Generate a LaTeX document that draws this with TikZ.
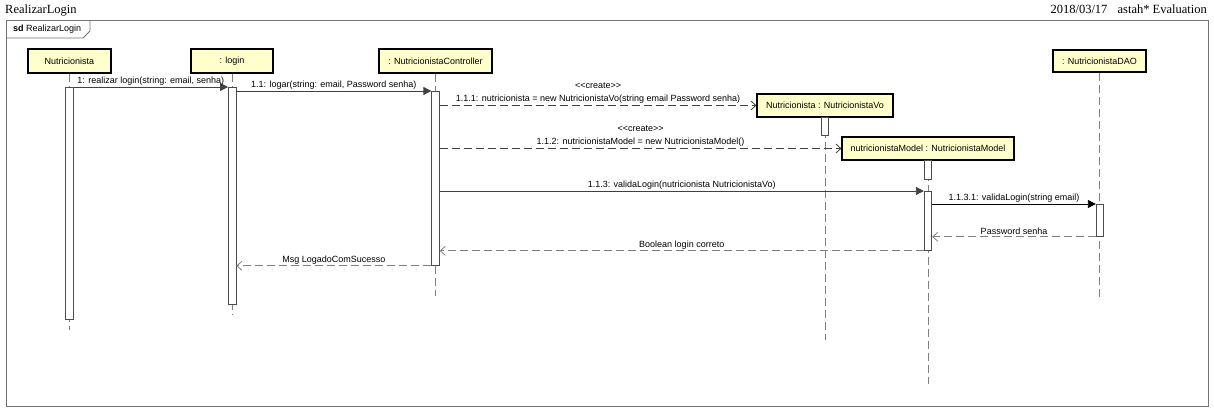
\documentclass[tikz,border=0pt]{standalone}
\usepackage{fontspec}
\setmainfont{Liberation Serif}
\newfontfamily\umlfont{Liberation Sans}
\usetikzlibrary{arrows.meta}
\definecolor{headfill}{HTML}{FFFFCC}
\tikzset{
  head/.style={draw=black,line width=1.1pt,fill=headfill,inner sep=0pt,font=\umlfont\fontsize{9}{11}\selectfont},
  life/.style={draw=black!50,line width=0.8pt,dash pattern=on 8pt off 4pt},
  act/.style={draw=black!70,line width=0.8pt,fill=white,minimum width=7.5pt,inner sep=0pt,anchor=north},
  call/.style={draw=black!75,line width=0.8pt,-{Triangle[length=8pt,width=8pt]}},
  create/.style={draw=black!75,line width=0.8pt,dash pattern=on 8pt off 4pt,-{Straight Barb[length=5pt,width=9pt]}},
  reply/.style={draw=black!50,line width=0.8pt,dash pattern=on 8pt off 4pt,-{Straight Barb[length=5pt,width=9pt]}},
  lbl/.style={above,inner sep=1.5pt,font=\umlfont\fontsize{9}{11}\selectfont,align=center},
  frame/.style={draw=black!55,line width=0.8pt}
}
\begin{document}
\begin{tikzpicture}[x=1pt,y=-1pt]
\useasboundingbox (0,0) rectangle (1214,411);
\node[anchor=base west,inner sep=0pt,font=\fontsize{12.5}{14}\selectfont] (ttl) at (5,14) {RealizarLogin};
\node[anchor=base east,inner sep=0pt,font=\fontsize{12.5}{14}\selectfont] (eval) at (1207,14) {2018/03/17\hspace{7pt} astah* Evaluation};
\draw[frame] (6,20) rectangle (1208,406);
\draw[frame] (6,38)--(83,38)--(90,31)--(90,20);
\node[anchor=west,inner sep=0pt,font=\umlfont\fontsize{9}{11}\selectfont] (sd) at (13,29.5) {\textbf{sd} RealizarLogin};
\foreach \n/\x/\y/\w/\h/\t in {hNut/69.5/61/83/24/Nutricionista,hLog/232/61/82/24/: login,hCtl/435.5/61/113/24/: NutricionistaController,hVo/825/105.5/136/23/Nutricionista : NutricionistaVo,hMod/928/148.5/172/23/nutricionistaModel : NutricionistaModel,hDao/1099.5/61/93/22/: NutricionistaDAO}{\node[head,minimum width=\w pt,minimum height=\h pt](\n)at(\x,\y){\t};}
\foreach \n/\e in {hNut/330,hLog/315,hCtl/296,hVo/340,hMod/384,hDao/297}{\draw[life](\n.south)--(\n.south|-0,\e);}
\node[act,minimum height=232pt] (aNut) at (69.5,87) {};
\node[act,minimum height=217pt] (aLog) at (232.2,87) {};
\node[act,minimum height=174pt] (aCtl) at (435.5,91) {};
\node[act,minimum height=18pt] (aVo) at (825,117) {};
\node[act,minimum height=19pt] (aModA) at (928,160) {};
\node[act,minimum height=59pt] (aModB) at (928,191) {};
\node[act,minimum height=32pt] (aDao) at (1100,204) {};
\draw[call](aNut.north east)--node[lbl]{1: realizar login(string: email, senha)}(aLog.north west);
\draw[call](aLog.east|-aCtl.north)--node[lbl]{1.1: logar(string: email, Password senha)}(aCtl.north west);
\draw[create](aCtl.east|-hVo.west)--node[lbl]{<\kern0pt<create>\kern0pt>\\[2pt]1.1.1: nutricionista = new NutricionistaVo(string email Password senha)}(hVo.west);
\draw[create](aCtl.east|-hMod.west)--node[lbl]{<\kern0pt<create>\kern0pt>\\[2pt]1.1.2: nutricionistaModel = new NutricionistaModel()}(hMod.west);
\draw[call](aCtl.east|-aModB.north)--node[lbl]{1.1.3: validaLogin(nutricionista NutricionistaVo)}(aModB.north west);
\draw[call,draw=black](aModB.east|-aDao.north)--node[lbl]{1.1.3.1: validaLogin(string email)}(aDao.north west);
\draw[reply](aDao.south west)--node[lbl]{Password senha}(aDao.south west-|aModB.east);
\draw[reply](aModB.south west)--node[lbl]{Boolean login correto}(aModB.south west-|aCtl.east);
\draw[reply](aCtl.south west)--node[lbl]{Msg LogadoComSucesso}(aCtl.south west-|aLog.east);
\end{tikzpicture}
\end{document}
